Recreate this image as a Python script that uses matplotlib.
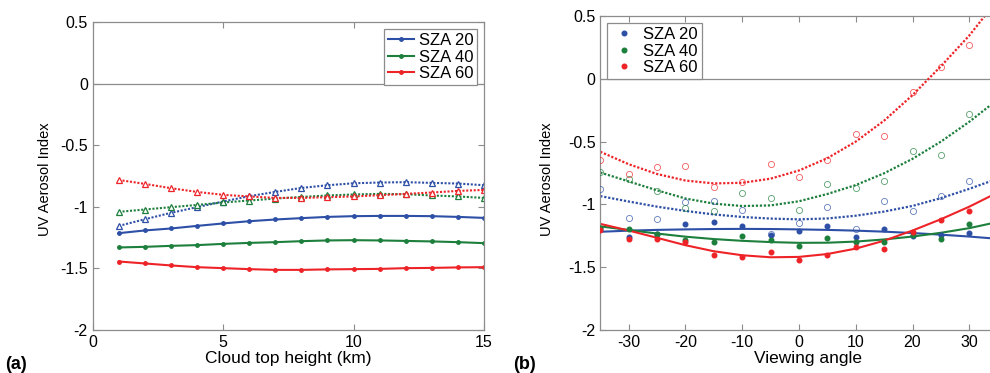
import numpy as np
import matplotlib
matplotlib.use("Agg")
import matplotlib.pyplot as plt

plt.rcParams['font.family'] = ['Liberation Sans', 'DejaVu Sans']

# ---------------- data: panel (a) ----------------
cloud_top_height = [1, 2, 3, 4, 5, 6, 7, 8, 9, 10, 11, 12, 13, 14, 15]
a_sza20_solid = [-1.214, -1.192, -1.176, -1.155, -1.135, -1.117, -1.103, -1.092, -1.082, -1.076, -1.074, -1.074, -1.076, -1.082, -1.090]
a_sza40_solid = [-1.330, -1.325, -1.317, -1.311, -1.301, -1.293, -1.287, -1.279, -1.273, -1.271, -1.273, -1.277, -1.281, -1.287, -1.295]
a_sza60_solid = [-1.444, -1.460, -1.476, -1.490, -1.498, -1.506, -1.512, -1.512, -1.508, -1.506, -1.504, -1.498, -1.496, -1.492, -1.490]
a_sza20_dot = [-1.155, -1.101, -1.049, -1.003, -0.957, -0.914, -0.879, -0.847, -0.825, -0.809, -0.803, -0.800, -0.806, -0.811, -0.825]
a_sza40_dot = [-1.041, -1.022, -1.003, -0.985, -0.965, -0.949, -0.933, -0.920, -0.908, -0.900, -0.895, -0.898, -0.908, -0.916, -0.928]
a_sza60_dot = [-0.782, -0.814, -0.849, -0.879, -0.903, -0.916, -0.928, -0.928, -0.922, -0.916, -0.906, -0.895, -0.884, -0.871, -0.863]

# ---------------- data: panel (b) ----------------
viewing_angle = [-35, -30, -25, -20, -15, -10, -5, 0, 5, 10, 15, 20, 25, 30]
b_sza20_filled = [-1.195, -1.256, -1.232, -1.160, -1.144, -1.168, -1.242, -1.214, -1.170, -1.261, -1.192, -1.250, -1.240, -1.229]
b_sza40_filled = [-1.188, -1.197, -1.234, -1.285, -1.298, -1.253, -1.282, -1.333, -1.268, -1.303, -1.301, -1.240, -1.272, -1.157]
b_sza60_filled = [-1.204, -1.276, -1.277, -1.300, -1.399, -1.415, -1.378, -1.443, -1.404, -1.341, -1.357, -1.216, -1.128, -1.049]
b_sza20_open = [-0.879, -1.112, -1.118, -0.978, -0.972, -1.043, -1.238, -1.152, -1.017, -1.198, -0.973, -1.050, -0.935, -0.813]
b_sza40_open = [-0.745, -0.797, -0.893, -1.027, -1.050, -0.911, -0.953, -1.041, -0.840, -0.873, -0.813, -0.571, -0.603, -0.279]
b_sza60_open = [-0.650, -0.754, -0.700, -0.693, -0.860, -0.819, -0.680, -0.779, -0.645, -0.438, -0.452, -0.107, 0.095, 0.268]

fit_angle = [-35, -30, -25, -20, -15, -10, -5, 0, 5, 10, 15, 20, 25, 30, 35]
fit_sza20_solid = [-1.218, -1.209, -1.203, -1.199, -1.196, -1.195, -1.196, -1.199, -1.203, -1.209, -1.217, -1.228, -1.241, -1.256, -1.274]
fit_sza40_solid = [-1.175, -1.204, -1.232, -1.257, -1.276, -1.290, -1.300, -1.306, -1.305, -1.296, -1.279, -1.256, -1.226, -1.189, -1.140]
fit_sza60_solid = [-1.155, -1.208, -1.266, -1.325, -1.373, -1.405, -1.421, -1.418, -1.395, -1.352, -1.289, -1.208, -1.118, -1.018, -0.905]
fit_sza20_dot = [-0.934, -0.977, -1.018, -1.052, -1.080, -1.100, -1.113, -1.119, -1.112, -1.090, -1.057, -1.012, -0.950, -0.876, -0.795]
fit_sza40_dot = [-0.746, -0.817, -0.888, -0.953, -0.994, -1.013, -1.008, -0.975, -0.917, -0.846, -0.752, -0.637, -0.500, -0.342, -0.165]
fit_sza60_dot = [-0.581, -0.680, -0.758, -0.810, -0.833, -0.828, -0.795, -0.730, -0.632, -0.500, -0.333, -0.130, 0.100, 0.345, 0.630]

labels = ['SZA 20', 'SZA 40', 'SZA 60']
colors = ['#2d4fa6', '#1d7f3c', '#ee2328']

W, H = 990, 373
fig = plt.figure(figsize=(W / 100, H / 100), dpi=100)

def px_axes(x0, x1, ytop, ybot):
    return fig.add_axes([x0 / W, (H - ybot) / H, (x1 - x0) / W, (ybot - ytop) / H])

axA = px_axes(92.7, 484, 22, 330)
axB = px_axes(600.3, 997.7, 16, 330)

dotted = (0, (1.0, 0.8))
spine_col = '#8c8c8c'
for ax in (axA, axB):
    for s in ax.spines.values():
        s.set_color(spine_col)
        s.set_linewidth(0.9)
    ax.tick_params(direction='in', length=4, width=0.8, color=spine_col,
                   top=True, right=True, labelsize=11.5, pad=3.5)
    ax.axhline(0, color=spine_col, lw=0.9, zorder=1)
    ax.set_ylim(-2, 0.5)
    ax.set_yticks([-2, -1.5, -1, -0.5, 0, 0.5])
    ax.set_yticklabels(['-2', '-1.5', '-1', '-0.5', '0', '0.5'])

# panel (a)
solid_a = [a_sza20_solid, a_sza40_solid, a_sza60_solid]
dot_a = [a_sza20_dot, a_sza40_dot, a_sza60_dot]
for lab, c, ys in zip(labels, colors, solid_a):
    axA.plot(cloud_top_height, ys, '-', color=c, lw=1.5, marker='o', ms=2.5, label=lab)
for c, ys in zip(colors, dot_a):
    axA.plot(cloud_top_height, ys, linestyle=dotted, color=c, lw=1.5, marker='^', ms=4.5,
             mfc='white', mec=c, mew=0.9)
axA.set_xlim(0, 15)
axA.set_xticks([0, 5, 10, 15])
axA.set_xticklabels(['0', '5', '10', '15'])
legA = axA.legend(loc='upper right', fontsize=12, frameon=True, fancybox=False,
                  edgecolor=spine_col, framealpha=1, handlelength=1.6,
                  handletextpad=0.25, labelspacing=0.1, borderpad=0.25,
                  borderaxespad=0.4)
legA.get_frame().set_linewidth(0.9)

# panel (b)
filled_b = [b_sza20_filled, b_sza40_filled, b_sza60_filled]
open_b = [b_sza20_open, b_sza40_open, b_sza60_open]
fit_s = [fit_sza20_solid, fit_sza40_solid, fit_sza60_solid]
fit_d = [fit_sza20_dot, fit_sza40_dot, fit_sza60_dot]
for lab, c, ys in zip(labels, colors, filled_b):
    axB.plot(viewing_angle, ys, 'o', color=c, ms=3.3, mec=c, label=lab, zorder=3)
for c, ys in zip(colors, open_b):
    axB.plot(viewing_angle, ys, 'o', ms=4.4, mfc='none', mec=c, mew=0.6, alpha=0.75, zorder=3)
for c, ys in zip(colors, fit_s):
    axB.plot(fit_angle, ys, '-', color=c, lw=1.5, zorder=2)
for c, ys in zip(colors, fit_d):
    axB.plot(fit_angle, ys, linestyle=dotted, color=c, lw=1.6, zorder=2)
axB.set_xlim(-35, 35)
axB.set_xticks([-30, -20, -10, 0, 10, 20, 30])
axB.set_xticklabels(['-30', '-20', '-10', '0', '10', '20', '30'])
legB = axB.legend(loc='upper left', fontsize=12, frameon=True, fancybox=False,
                  edgecolor=spine_col, framealpha=1, handlelength=1.6,
                  handletextpad=0.3, labelspacing=0.1, borderpad=0.25,
                  borderaxespad=0.4)
legB.get_frame().set_linewidth(0.9)

# labels
def ftext(x, y, s, **kw):
    fig.text(x / W, (H - y) / H, s, **kw)

ftext(45, 179, 'UV Aerosol Index', rotation=90, ha='center', va='center', fontsize=10.5)
ftext(547, 179, 'UV Aerosol Index', rotation=90, ha='center', va='center', fontsize=10.5)
ftext(288, 359, 'Cloud top height (km)', ha='center', va='center', fontsize=12.5)
ftext(808, 359, 'Viewing angle', ha='center', va='center', fontsize=12.5)
ftext(5, 369, '(a)', ha='left', va='baseline', fontsize=13, fontweight='bold')
ftext(513, 369, '(b)', ha='left', va='baseline', fontsize=13, fontweight='bold')

fig.savefig('out.png', dpi=100)
